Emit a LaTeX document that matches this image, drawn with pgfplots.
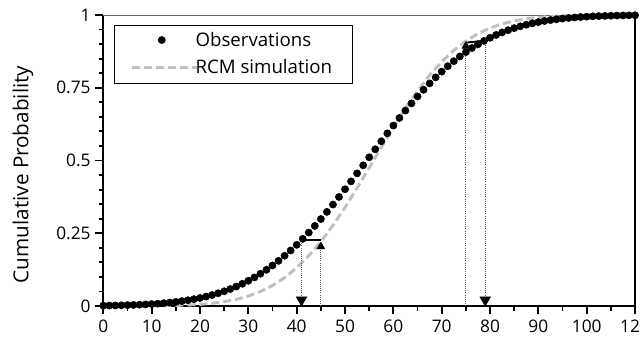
\documentclass[border=0pt]{standalone}
\usepackage{pgfplots}
\pgfplotsset{compat=1.18}
\usepackage{fontspec}
\setmainfont{Open Sans}
\definecolor{simgray}{RGB}{192,192,192}
\definecolor{guide}{RGB}{90,90,90}
\pgfplotsset{
  linelegend/.style={legend image code/.code={\path (0pt,0pt) (43pt,0pt);
      \draw[overlay,##1] (-1.5pt,0pt) -- (47.5pt,0pt);}},
  dotlegend/.style={legend image code/.code={\path (0pt,0pt) (43pt,0pt);
      \draw[##1] plot coordinates {(20.75pt,0pt)};}},
}
\begin{document}
\begin{tikzpicture}
\begin{axis}[
  at={(0pt,0pt)}, anchor=south west,
  scale only axis, width=398.8pt, height=218.25pt,
  xmin=0, xmax=110, ymin=0, ymax=1,
  axis lines=left,
  axis line style={-, line width=1.6pt, black},
  clip=false,
  xtick={0,10,...,110},
  xticklabels={0,10,20,30,40,50,60,70,80,90,100,120},
  minor xtick={5,15,...,105},
  ytick={0,0.25,0.5,0.75,1},
  yticklabels={0,0.25,0.5,0.75,1},
  minor y tick num=4,
  tick align=outside,
  major tick length=6pt, minor tick length=3.5pt,
  every tick/.style={line width=1.4pt, black},
  tick label style={font=\fontsize{13}{15}\selectfont},
  xticklabel style={yshift=-1pt},
  /pgf/number format/assume math mode=true,
  ylabel={Cumulative Probability},
  every axis y label/.style={at={(rel axis cs:-0.151,0.452)}, rotate=90, anchor=center,
    font=\fontsize{15.5}{18}\selectfont},
  legend style={at={(rel axis cs:0,1)}, anchor=north west, xshift=8pt, yshift=-7.5pt,
    draw=none, fill=none, font=\fontsize{14}{16}\selectfont,
    inner xsep=13.75pt, inner ysep=3pt, row sep=4.75pt,
    /tikz/every even column/.append style={column sep=7pt}},
  legend cell align=left,
  reverse legend,
]
% frame on the top and right sides
\draw[line width=0.6pt, black!60] (rel axis cs:0,1) -- (rel axis cs:1,1);
\draw[line width=1pt, black] (rel axis cs:1,1) -- (rel axis cs:1,0);
% legend frame
\draw[line width=0.7pt, black, fill=white] (rel axis cs:0.0201,0.7663) rectangle (rel axis cs:0.4678,0.9656);

% simulated cumulative distribution
\addplot[simgray, line width=2.2pt, dash pattern=on 6pt off 3pt, linelegend]
coordinates {
(0,0.0000) (2.5,0.0001) (5,0.0002) (7.5,0.0003) (10,0.0006) (12.5,0.0011)
(15,0.0020) (17.5,0.0034) (20,0.0057) (22.5,0.0093) (25,0.0148) (27.5,0.0228)
(30,0.0341) (32.5,0.0497) (35,0.0705) (37.5,0.0975) (40,0.1314) (42.5,0.1726)
(45,0.2213) (47.5,0.2770) (50,0.3390) (52.5,0.4055) (55,0.4749) (57.5,0.5450)
(60,0.6137) (62.5,0.6790) (65,0.7392) (67.5,0.7930) (70,0.8396) (72.5,0.8788)
(75,0.9107) (77.5,0.9359) (80,0.9552) (82.5,0.9695) (85,0.9798) (87.5,0.9870)
(90,0.9918) (92.5,0.9950) (95,0.9971) (97.5,0.9983) (100,0.9991) (102.5,0.9995)
(105,0.9997) (107.5,0.9999) (110,0.9999)
};
\addlegendentry{RCM simulation}

% observed cumulative distribution
\addplot[only marks, mark=*, mark size=2.7pt, black, dotlegend]
coordinates {
(0,0.0012) (1.25,0.0016) (2.5,0.0019) (3.75,0.0024) (5,0.0030) (6.25,0.0037)
(7.5,0.0045) (8.75,0.0055) (10,0.0067) (11.25,0.0081) (12.5,0.0098) (13.75,0.0118)
(15,0.0141) (16.25,0.0168) (17.5,0.0199) (18.75,0.0235) (20,0.0276) (21.25,0.0324)
(22.5,0.0377) (23.75,0.0438) (25,0.0506) (26.25,0.0583) (27.5,0.0668) (28.75,0.0763)
(30,0.0868) (31.25,0.0982) (32.5,0.1108) (33.75,0.1245) (35,0.1393) (36.25,0.1552)
(37.5,0.1725) (38.75,0.1908) (40,0.2102) (41.25,0.2308) (42.5,0.2524) (43.75,0.2752)
(45,0.2988) (46.25,0.3234) (47.5,0.3487) (48.75,0.3748) (50,0.4013) (51.25,0.4283)
(52.5,0.4558) (53.75,0.4834) (55,0.5111) (56.25,0.5387) (57.5,0.5662) (58.75,0.5934)
(60,0.6201) (61.25,0.6462) (62.5,0.6716) (63.75,0.6963) (65,0.7201) (66.25,0.7431)
(67.5,0.7649) (68.75,0.7857) (70,0.8054) (71.25,0.8240) (72.5,0.8413) (73.75,0.8575)
(75,0.8726) (76.25,0.8865) (77.5,0.8993) (78.75,0.9110) (80,0.9217) (81.25,0.9314)
(82.5,0.9401) (83.75,0.9479) (85,0.9549) (86.25,0.9611) (87.5,0.9666) (88.75,0.9715)
(90,0.9757) (91.25,0.9794) (92.5,0.9826) (93.75,0.9854) (95,0.9878) (96.25,0.9898)
(97.5,0.9916) (98.75,0.9930) (100,0.9943) (101.25,0.9953) (102.5,0.9962) (103.75,0.9969)
(105,0.9975) (106.25,0.9980) (107.5,0.9984) (108.75,0.9987) (110,0.9990)
};
\addlegendentry{Observations}

% quantile mapping guides
\addplot[densely dotted, line width=0.6pt, guide, forget plot] coordinates {(41,0) (41,0.227)};
\addplot[densely dotted, line width=0.6pt, guide, forget plot] coordinates {(45,0) (45,0.205)};
\addplot[densely dotted, line width=0.6pt, guide, forget plot] coordinates {(75,0) (75,0.893)};
\addplot[densely dotted, line width=0.6pt, guide, forget plot] coordinates {(79,0) (79,0.912)};
\addplot[black, line width=1.4pt, forget plot] coordinates {(41,0.227) (45,0.227)};
\addplot[black, line width=1.4pt, forget plot] coordinates {(75,0.905) (79,0.912)};
\addplot[only marks, mark=triangle*, mark size=4.6pt, black,
  mark options={rotate=180, fill=black}, forget plot]
  coordinates {(41,0.021) (79,0.021)};
\addplot[only marks, mark=triangle*, mark size=3.4pt, black,
  mark options={fill=black}, forget plot]
  coordinates {(45,0.204) (75,0.893)};
\end{axis}
\pgfresetboundingbox
\path (-77.5pt,-25.5pt) rectangle (402.5pt,229.5pt);
\end{tikzpicture}
\end{document}
